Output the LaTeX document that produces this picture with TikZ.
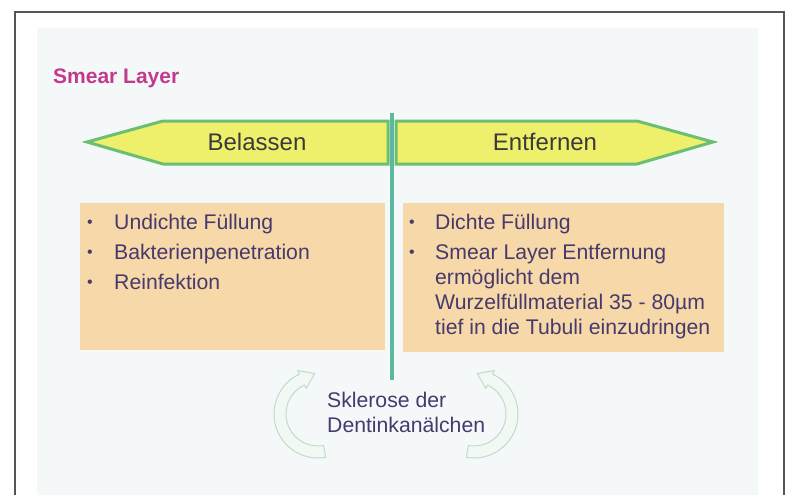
\documentclass[tikz,border=0pt]{standalone}
\usepackage{fontspec}
\setmainfont{Liberation Sans}
\definecolor{framec}{HTML}{555555}
\definecolor{panelc}{HTML}{F4F8F9}
\definecolor{pinkc}{HTML}{C23A8E}
\definecolor{arrowfillc}{HTML}{EEF06C}
\definecolor{arrowlinec}{HTML}{6CBF72}
\definecolor{dividerc}{HTML}{5DB8A2}
\definecolor{boxfillc}{HTML}{F7D8A9}
\definecolor{txtc}{HTML}{463A6C}
\definecolor{headc}{HTML}{3A3A3A}
\definecolor{curvlinec}{HTML}{BFDCC8}
\definecolor{curvfillc}{HTML}{F2F8F4}
\tikzset{
  sidearrow/.style={fill=arrowfillc, draw=arrowlinec, line width=3pt, line join=miter},
  listbox/.style={fill=boxfillc, draw=none},
  headtext/.style={font=\fontsize{24}{28}\selectfont, text=headc, inner sep=0pt},
  itemtext/.style={font=\fontsize{21.2}{25}\selectfont, text=txtc, inner sep=0pt, anchor=base west},
  bullettext/.style={font=\fontsize{16}{18}\selectfont, text=txtc, inner sep=0pt, anchor=base},
  curvarrow/.style={draw=curvlinec, fill=curvfillc, line width=1pt, line join=round},
  dividerline/.style={draw=dividerc, line width=4pt}
}
\begin{document}
\begin{tikzpicture}[x=1pt, y=-1pt]
\useasboundingbox (0,0) rectangle (794,495);
% frame and panel
\fill[panelc] (37,28) rectangle (758,495);
\draw[framec, line width=1.5pt] (15,495) -- (15,12) -- (784,12) -- (784,495);
% title
\node[font=\bfseries\fontsize{21}{24}\selectfont, text=pinkc, inner sep=0pt, anchor=base west] (title) at (53,83) {Smear Layer};
% side arrows
\draw[sidearrow] (87,142) -- (163,121) -- (388,121) -- (388,164) -- (163,164) -- cycle;
\draw[sidearrow] (396,121) -- (637,121) -- (713,142) -- (637,164) -- (396,164) -- cycle;
\node[headtext] (belassen) at (257,142) {Belassen};
\node[headtext] (entfernen) at (545,142) {Entfernen};
% boxes
\fill[listbox] (80,203) rectangle (385,350);
\fill[listbox] (403,203) rectangle (724,352);
% divider
\coordinate (dtop) at (392,113);
\coordinate (dbot) at (392,380);
\draw[dividerline] (dtop) -- (dbot);
% left list
\node[bullettext] (lb1) at (90,227) {•};
\node[bullettext] (lb2) at (90,257) {•};
\node[bullettext] (lb3) at (90,287) {•};
\node[itemtext] (l1) at (114,229) {Undichte Füllung};
\node[itemtext] (l2) at (114,259) {Bakterienpenetration};
\node[itemtext] (l3) at (114,289) {Reinfektion};
% right list
\node[bullettext] (rb1) at (412,227) {•};
\node[bullettext] (rb2) at (412,257) {•};
\node[itemtext] (r1) at (435,229) {Dichte Füllung};
\node[itemtext] (r2a) at (435,259) {Smear Layer Entfernung};
\node[itemtext] (r2b) at (435,284) {ermöglicht dem};
\node[itemtext] (r2c) at (435,309) {Wurzelfüllmaterial 35 - 80µm};
\node[itemtext] (r2d) at (435,334) {tief in die Tubuli einzudringen};
% circular arrows
\begin{scope}[shift={(318,414)}, x=1pt, y=1pt]
\draw[curvarrow] (-80:44) arc[start angle=-80, end angle=-245, radius=44] -- (115:48) -- (-3.4,40.4) -- (115:28) -- (115:32) arc[start angle=115, end angle=280, radius=32] -- cycle;
\end{scope}
\begin{scope}[shift={(474,414)}, x=-1pt, y=1pt]
\draw[curvarrow] (-80:44) arc[start angle=-80, end angle=-245, radius=44] -- (115:48) -- (-3.4,40.4) -- (115:28) -- (115:32) arc[start angle=115, end angle=280, radius=32] -- cycle;
\end{scope}
\node[itemtext] (skl1) at (327,407) {Sklerose der};
\node[itemtext] (skl2) at (327,432) {Dentinkanälchen};
\end{tikzpicture}
\end{document}
